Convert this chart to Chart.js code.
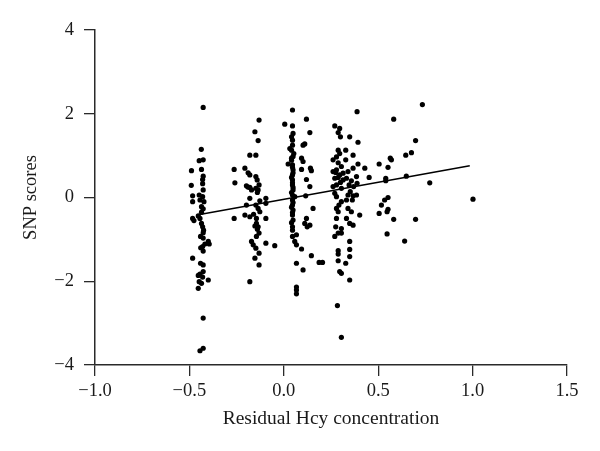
<!DOCTYPE html>
<html>
<head>
<meta charset="utf-8">
<script src="https://cdn.jsdelivr.net/npm/chart.js@4"></script>
<style>
html,body{margin:0;padding:0;background:#fff;}
#wrap{width:600px;height:451px;position:relative;}
</style>
</head>
<body>
<div id="wrap"><canvas id="c" width="600" height="451"></canvas></div>
<script>
// Residual Hcy concentration (x) and SNP scores (y)
const xValues = [
  // group near -0.45
  -0.427,-0.437,-0.448,-0.427,-0.489,-0.436,-0.427,-0.430,-0.490,-0.427,-0.483,-0.448,-0.430,-0.483,-0.444,-0.423,-0.436,-0.427,-0.483,-0.476,-0.453,-0.444,-0.436,-0.430,-0.427,-0.441,-0.427,-0.400,-0.395,-0.418,-0.430,-0.427,-0.483,-0.441,-0.427,-0.444,-0.453,-0.427,-0.400,-0.448,-0.436,-0.453,-0.427,-0.427,-0.444,
  -0.430,-0.436,-0.425,-0.440,-0.430,
  // group near -0.15
  -0.131,-0.153,-0.136,-0.180,-0.148,-0.263,-0.206,-0.189,-0.180,-0.259,-0.148,-0.141,-0.198,-0.180,-0.148,-0.136,-0.131,-0.171,-0.180,-0.127,-0.095,-0.198,-0.148,-0.136,-0.095,-0.127,-0.263,-0.206,-0.180,-0.145,-0.095,-0.145,-0.153,-0.136,-0.131,-0.145,-0.171,-0.162,-0.095,-0.048,-0.148,-0.131,-0.153,-0.131,-0.180,
  -0.190,-0.140,-0.160,-0.140,
  // group near 0.05
  0.046,0.005,0.046,0.049,0.120,0.138,0.111,0.102,0.032,0.046,0.053,0.041,0.094,0.102,0.023,0.046,0.049,0.094,0.141,0.146,0.046,0.046,0.120,0.138,0.046,0.049,0.046,0.058,0.046,0.116,0.046,0.049,0.155,0.046,0.120,0.111,0.124,0.138,0.046,0.067,0.046,0.058,0.067,0.094,0.146,0.067,0.102,0.187,0.205,0.067,0.067,0.067,
  0.041,0.046,0.041,0.049,0.041,0.046,0.049,0.041,0.046,0.049,0.041,0.049,0.041,0.046,0.049,0.041,0.046,
  // group near 0.3
  0.270,0.296,0.288,0.300,0.349,0.388,0.393,0.288,0.296,0.328,0.367,0.279,0.261,0.288,0.328,0.305,0.261,0.279,0.296,0.314,0.340,0.367,0.393,0.429,0.270,0.288,0.314,0.332,0.358,0.385,0.452,0.261,0.279,0.305,0.346,0.370,0.388,0.270,0.279,0.340,0.367,0.385,0.332,0.363,0.305,0.279,0.288,0.340,0.358,0.402,0.279,0.332,0.349,0.367,0.305,0.288,0.270,0.305,0.349,0.288,0.288,0.349,0.349,0.288,0.328,0.296,0.305,0.349,0.284,0.305,
  0.275,0.300,0.292,0.352,0.275,
  // spread 0.5 to 1.0
  0.505,0.552,0.564,0.570,0.582,0.540,0.540,0.517,0.534,0.552,0.552,0.547,0.505,0.582,0.547,0.646,0.676,0.698,0.649,0.698,0.640,0.773,1.002,0.734
];
const yValues = [
  2.15,1.15,0.88,0.90,0.64,0.67,0.51,0.43,0.29,0.18,0.04,0.06,0.02,-0.10,-0.06,-0.10,-0.22,-0.27,-0.50,-0.55,-0.44,-0.50,-0.62,-0.70,-0.84,-0.93,-0.97,-1.05,-1.11,-1.11,-1.17,-1.28,-1.45,-1.57,-1.61,-1.83,-1.86,-1.77,-1.97,-2.01,-2.05,-2.17,-2.88,-3.60,-3.66,
  0.33,-0.35,-0.78,-1.20,-1.90,
  1.85,1.57,1.36,1.01,1.01,0.67,0.70,0.59,0.54,0.35,0.50,0.42,0.28,0.24,0.22,0.18,0.30,0.18,-0.02,-0.08,-0.02,-0.18,-0.18,-0.26,-0.14,-0.34,-0.50,-0.42,-0.46,-0.50,-0.50,-0.62,-0.68,-0.70,-0.85,-0.93,-1.05,-1.13,-1.09,-1.15,-1.21,-1.33,-1.45,-1.61,-2.01,
  0.25,0.12,-0.40,-0.76,
  2.09,1.75,1.71,1.53,1.87,1.55,1.28,1.25,1.17,1.25,1.05,0.94,0.94,0.86,0.80,0.78,0.66,0.67,0.70,0.64,0.54,0.42,0.43,0.26,0.30,0.18,0.06,0.02,-0.06,0.04,-0.18,-0.30,-0.26,-0.42,-0.50,-0.62,-0.70,-0.66,-0.70,-0.89,-0.93,-1.05,-1.13,-1.23,-1.39,-1.57,-1.73,-1.55,-1.55,-2.14,-2.21,-2.30,
  1.45,1.37,1.13,0.98,0.89,0.72,0.59,0.48,0.35,0.24,0.12,-0.12,-0.23,-0.36,-0.54,-0.60,-0.78,
  1.71,1.65,1.55,1.45,1.45,2.05,1.32,1.13,1.05,1.13,1.01,0.97,0.90,0.83,0.90,0.74,0.62,0.66,0.54,0.58,0.62,0.70,0.80,0.70,0.46,0.48,0.42,0.46,0.40,0.50,0.48,0.26,0.30,0.22,0.30,0.26,0.34,0.10,0.02,0.06,0.04,0.06,-0.06,-0.06,-0.10,-0.26,-0.34,-0.26,-0.34,-0.42,-0.50,-0.50,-0.62,-0.66,-0.74,-0.85,-0.93,-0.85,-1.05,-1.27,-1.35,-1.24,-1.41,-1.51,-1.57,-1.77,-1.81,-1.97,-2.58,-3.34,
  0.60,0.36,-0.18,0.14,-0.70,
  0.80,0.72,0.94,0.90,1.87,0.46,0.40,-0.18,-0.06,0.00,-0.28,-0.34,-0.38,-0.52,-0.87,1.01,1.07,1.36,0.51,-0.52,-1.04,0.35,-0.04,2.22
];
// Fitted regression line end points
const fitX = [-0.46, 0.985];
const fitY = [-0.42, 0.76];
// Axis ticks
const xTicks = [-1.0, -0.5, 0.0, 0.5, 1.0, 1.5];
const yTicks = [-4, -2, 0, 2, 4];

const points = xValues.map((x, i) => ({x: x, y: yValues[i]}));
const fitLine = fitX.map((x, i) => ({x: x, y: fitY[i]}));
const fmt = (v, d) => (v < 0 ? '\u2212' : '') + Math.abs(v).toFixed(d);
const serif = "'Liberation Serif', 'DejaVu Serif', serif";
const axisColor = '#2a2a2a';

new Chart(document.getElementById('c'), {
  type: 'scatter',
  data: {
    datasets: [
      {
        type: 'line',
        data: fitLine,
        borderColor: '#000',
        borderWidth: 1.6,
        pointRadius: 0,
        fill: false,
        order: 0
      },
      {
        data: points,
        backgroundColor: '#000',
        borderWidth: 0,
        pointRadius: 2.6,
        pointHoverRadius: 2.6,
        order: 1
      }
    ]
  },
  options: {
    responsive: false,
    animation: false,
    events: [],
    layout: {padding: {left: 0, right: 33, top: 30, bottom: 0}},
    plugins: {legend: {display: false}, tooltip: {enabled: false}},
    scales: {
      x: {
        type: 'linear',
        min: -1, max: 1.5,
        afterBuildTicks: s => { s.ticks = xTicks.map(v => ({value: v})); },
        afterFit: s => { s.height = 86; },
        ticks: {
          callback: v => fmt(v, 1),
          color: '#1a1a1a',
          font: {family: serif, size: 18.5},
          padding: 4,
          maxRotation: 0,
          autoSkip: false
        },
        grid: {display: true, drawOnChartArea: false, drawTicks: true, tickLength: 11, color: axisColor, lineWidth: 1.3},
        border: {display: true, color: axisColor, width: 1.5},
        title: {display: true, text: 'Residual Hcy concentration', color: '#1a1a1a', font: {family: serif, size: 19.5}, padding: {top: 0, bottom: 20}}
      },
      y: {
        type: 'linear',
        min: -4, max: 4,
        afterBuildTicks: s => { s.ticks = yTicks.map(v => ({value: v})); },
        afterFit: s => { s.width = 95; },
        ticks: {
          callback: v => fmt(v, 0),
          color: '#1a1a1a',
          font: {family: serif, size: 18.5},
          padding: 10,
          autoSkip: false
        },
        grid: {display: true, drawOnChartArea: false, drawTicks: true, tickLength: 11, color: axisColor, lineWidth: 1.3},
        border: {display: true, color: axisColor, width: 1.5},
        title: {display: true, text: 'SNP scores', color: '#1a1a1a', font: {family: serif, size: 18.5}, padding: {top: 20, bottom: 0}}
      }
    }
  }
});
</script>
</body>
</html>
